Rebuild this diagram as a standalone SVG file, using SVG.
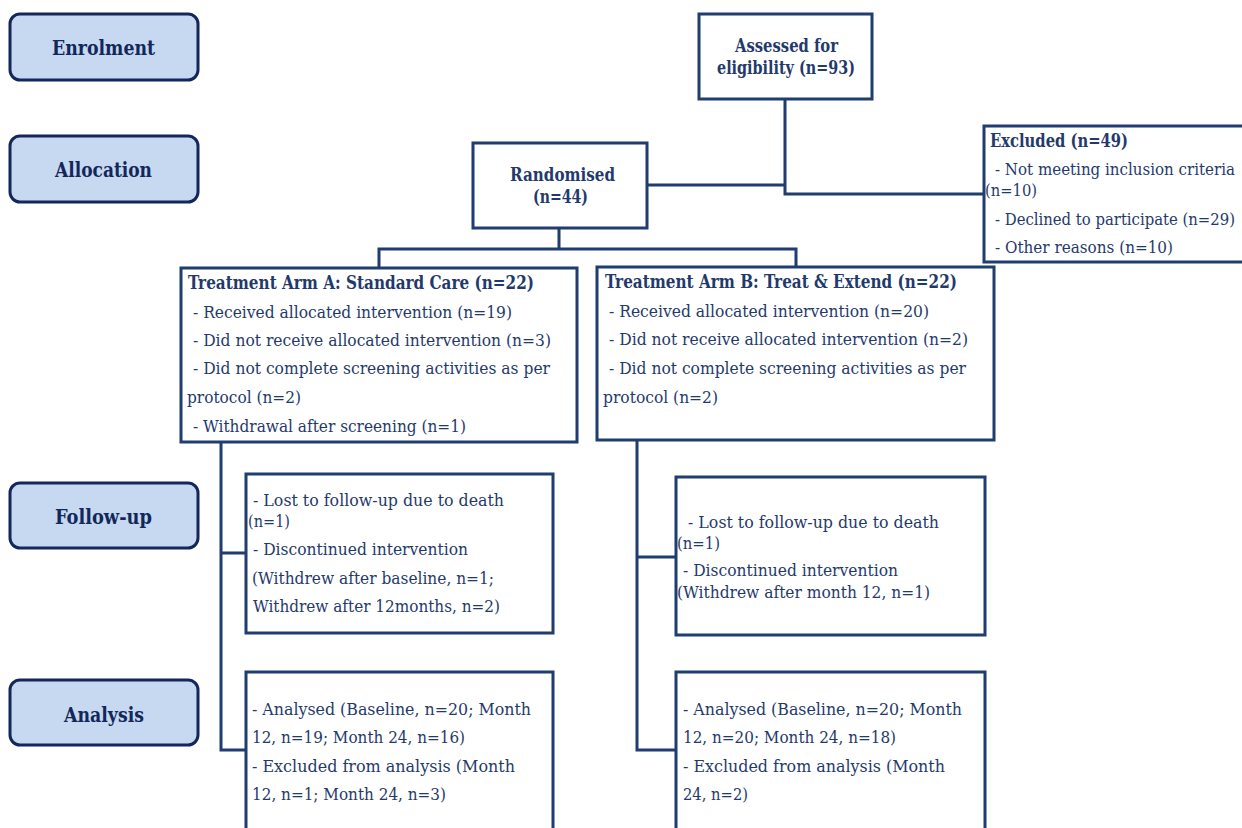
<svg xmlns="http://www.w3.org/2000/svg" width="1242" height="828" viewBox="0 0 1242 828">
<style>
.stage{fill:#c6d9f1;stroke:#13275a;stroke-width:3}
.box{fill:#ffffff;stroke:#1f3d6e;stroke-width:3}
.line{fill:none;stroke:#1f3d6e;stroke-width:3}
text{fill:#1f3a6b;font-size:17.5px;font-family:"DejaVu Serif",serif;font-stretch:condensed}
.b{font-weight:bold;font-size:18px}
.st{font-weight:bold;font-size:20px;fill:#13275a}
</style>
<rect width="1242" height="828" fill="#ffffff"/>
<g id="connectors">
<path class="line" d="M785 99 V194 H984"/>
<path class="line" d="M647 185 H785"/>
<path class="line" d="M559 228 V249 M379 268 V249 H796 V267"/>
<path class="line" d="M221 442 V750 H247 M221 553 H247"/>
<path class="line" d="M637 440 V750 H677 M637 557 H677"/>
</g>
<g id="stage-enrolment"><rect class="stage" x="10" y="14" width="188" height="66" rx="10"/><text class="st" x="52" y="55" textLength="103" lengthAdjust="spacingAndGlyphs">Enrolment</text></g>
<g id="stage-allocation"><rect class="stage" x="10" y="136" width="188" height="66" rx="10"/><text class="st" x="55" y="177" textLength="97" lengthAdjust="spacingAndGlyphs">Allocation</text></g>
<g id="stage-followup"><rect class="stage" x="10" y="483" width="188" height="65" rx="10"/><text class="st" x="55" y="524" textLength="97" lengthAdjust="spacingAndGlyphs">Follow-up</text></g>
<g id="stage-analysis"><rect class="stage" x="10" y="680" width="188" height="65" rx="10"/><text class="st" x="64" y="722" textLength="80" lengthAdjust="spacingAndGlyphs">Analysis</text></g>
<g id="assessed"><rect class="box" x="699" y="14" width="173" height="85"/>
<text class="b" x="735" y="52" textLength="103" lengthAdjust="spacingAndGlyphs">Assessed for</text>
<text class="b" x="717" y="74" textLength="138" lengthAdjust="spacingAndGlyphs">eligibility (n=93)</text></g>
<g id="randomised"><rect class="box" x="473" y="143" width="174" height="85"/>
<text class="b" x="510" y="181" textLength="105" lengthAdjust="spacingAndGlyphs">Randomised</text>
<text class="b" x="533" y="203" textLength="55" lengthAdjust="spacingAndGlyphs">(n=44)</text></g>
<g id="excluded"><rect class="box" x="984" y="126" width="270" height="136"/>
<text class="b" x="990" y="147" textLength="138" lengthAdjust="spacingAndGlyphs">Excluded (n=49)</text>
<text x="995" y="175" textLength="240" lengthAdjust="spacingAndGlyphs">- Not meeting inclusion criteria</text>
<text x="985" y="196" textLength="52" lengthAdjust="spacingAndGlyphs">(n=10)</text>
<text x="995" y="225" textLength="240" lengthAdjust="spacingAndGlyphs">- Declined to participate (n=29)</text>
<text x="995" y="253" textLength="178" lengthAdjust="spacingAndGlyphs">- Other reasons (n=10)</text></g>
<g id="arm-a"><rect class="box" x="181" y="268" width="396" height="174"/>
<text class="b" x="188" y="289" textLength="346" lengthAdjust="spacingAndGlyphs">Treatment Arm A: Standard Care (n=22)</text>
<text x="193" y="318" textLength="319" lengthAdjust="spacingAndGlyphs">- Received allocated intervention (n=19)</text>
<text x="193" y="346" textLength="358" lengthAdjust="spacingAndGlyphs">- Did not receive allocated intervention (n=3)</text>
<text x="193" y="374" textLength="357" lengthAdjust="spacingAndGlyphs">- Did not complete screening activities as per</text>
<text x="187" y="403" textLength="114" lengthAdjust="spacingAndGlyphs">protocol (n=2)</text>
<text x="193" y="432" textLength="273" lengthAdjust="spacingAndGlyphs">- Withdrawal after screening (n=1)</text></g>
<g id="arm-b"><rect class="box" x="597" y="267" width="397" height="173"/>
<text class="b" x="605" y="288" textLength="352" lengthAdjust="spacingAndGlyphs">Treatment Arm B: Treat &amp; Extend (n=22)</text>
<text x="609" y="317" textLength="320" lengthAdjust="spacingAndGlyphs">- Received allocated intervention (n=20)</text>
<text x="609" y="345" textLength="359" lengthAdjust="spacingAndGlyphs">- Did not receive allocated intervention (n=2)</text>
<text x="609" y="374" textLength="357" lengthAdjust="spacingAndGlyphs">- Did not complete screening activities as per</text>
<text x="603" y="403" textLength="115" lengthAdjust="spacingAndGlyphs">protocol (n=2)</text></g>
<g id="followup-a"><rect class="box" x="246" y="474" width="307" height="159"/>
<text x="253" y="506" textLength="251" lengthAdjust="spacingAndGlyphs">- Lost to follow-up due to death</text>
<text x="248" y="527" textLength="42" lengthAdjust="spacingAndGlyphs">(n=1)</text>
<text x="253" y="555" textLength="215" lengthAdjust="spacingAndGlyphs">- Discontinued intervention</text>
<text x="252" y="584" textLength="242" lengthAdjust="spacingAndGlyphs">(Withdrew after baseline, n=1;</text>
<text x="253" y="612" textLength="247" lengthAdjust="spacingAndGlyphs">Withdrew after 12months, n=2)</text></g>
<g id="followup-b"><rect class="box" x="676" y="477" width="309" height="158"/>
<text x="688" y="528" textLength="251" lengthAdjust="spacingAndGlyphs">- Lost to follow-up due to death</text>
<text x="677" y="549" textLength="43" lengthAdjust="spacingAndGlyphs">(n=1)</text>
<text x="683" y="576" textLength="215" lengthAdjust="spacingAndGlyphs">- Discontinued intervention</text>
<text x="677" y="598" textLength="253" lengthAdjust="spacingAndGlyphs">(Withdrew after month 12, n=1)</text></g>
<g id="analysis-a"><rect class="box" x="246" y="672" width="307" height="170"/>
<text x="252" y="715" textLength="279" lengthAdjust="spacingAndGlyphs">- Analysed (Baseline, n=20; Month</text>
<text x="252" y="743" textLength="213" lengthAdjust="spacingAndGlyphs">12, n=19; Month 24, n=16)</text>
<text x="252" y="772" textLength="263" lengthAdjust="spacingAndGlyphs">- Excluded from analysis (Month</text>
<text x="252" y="800" textLength="194" lengthAdjust="spacingAndGlyphs">12, n=1; Month 24, n=3)</text></g>
<g id="analysis-b"><rect class="box" x="676" y="672" width="309" height="170"/>
<text x="683" y="715" textLength="279" lengthAdjust="spacingAndGlyphs">- Analysed (Baseline, n=20; Month</text>
<text x="683" y="743" textLength="213" lengthAdjust="spacingAndGlyphs">12, n=20; Month 24, n=18)</text>
<text x="683" y="772" textLength="262" lengthAdjust="spacingAndGlyphs">- Excluded from analysis (Month</text>
<text x="683" y="800" textLength="65" lengthAdjust="spacingAndGlyphs">24, n=2)</text></g>
</svg>
